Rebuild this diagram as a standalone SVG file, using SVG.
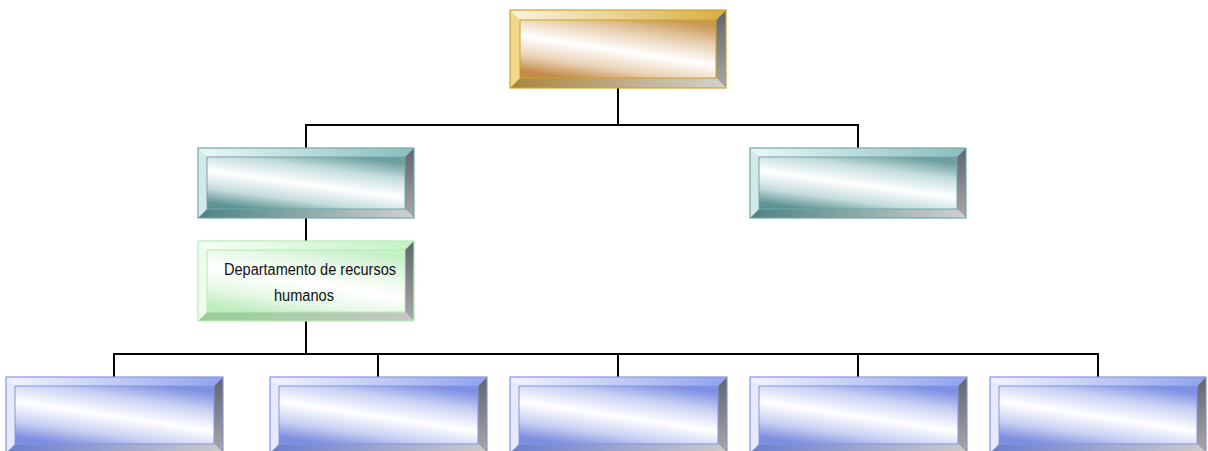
<svg xmlns="http://www.w3.org/2000/svg" width="1208" height="451" viewBox="0 0 1208 451">
<style>
.conn{fill:none;stroke:#000;stroke-width:2;stroke-linecap:square}
.rb{fill:url(#gRight)}
.lbl{font-family:"Liberation Sans",Arial,sans-serif;font-size:16px;fill:#111;text-anchor:middle}
.gold .outer{stroke:#d4a21c;stroke-width:1.2}
.gold .c{fill:url(#goldC)} .gold .t{fill:url(#goldT)} .gold .l{fill:#f0d98c} .gold .b{fill:url(#goldB)} .gold .in{fill:none;stroke:#d4a21c;stroke-width:1}
.teal .outer{stroke:#6fa9a9;stroke-width:1.2}
.teal .c{fill:url(#tealC)} .teal .t{fill:url(#tealT)} .teal .l{fill:#d5e9e9} .teal .b{fill:url(#tealB)} .teal .in{fill:none;stroke:#6fa9a9;stroke-width:1}
.green .outer{stroke:#b4ecb4;stroke-width:1.2}
.green .c{fill:url(#greenC)} .green .t{fill:url(#greenT)} .green .l{fill:#f0fcf0} .green .b{fill:url(#greenB)} .green .in{fill:none;stroke:#b4ecb4;stroke-width:1}
.blue .outer{stroke:#8395e6;stroke-width:1.2}
.blue .c{fill:url(#blueC)} .blue .t{fill:url(#blueT)} .blue .l{fill:#e6ebfc} .blue .b{fill:url(#blueB)} .blue .in{fill:none;stroke:#8395e6;stroke-width:1}
</style>
<defs>
<linearGradient id="gRight" x1="0" y1="0" x2="0" y2="1"><stop offset="0" stop-color="#5e6470"/><stop offset="1" stop-color="#a8a8a8"/></linearGradient>
<linearGradient id="goldC" x1="0.76" y1="0" x2="0.24" y2="1"><stop offset="0" stop-color="#c99a55"/><stop offset="0.25" stop-color="#e8d0b2"/><stop offset="0.52" stop-color="#ffffff"/><stop offset="0.78" stop-color="#ead3b6"/><stop offset="1" stop-color="#c48a48"/></linearGradient>
<linearGradient id="goldT" x1="0" y1="0" x2="1" y2="0"><stop offset="0" stop-color="#fbf4e2"/><stop offset="1" stop-color="#d6ae42"/></linearGradient>
<linearGradient id="goldB" x1="0" y1="0" x2="1" y2="0"><stop offset="0" stop-color="#a8843c"/><stop offset="1" stop-color="#d2d2d2"/></linearGradient>
<linearGradient id="tealC" x1="0.76" y1="0" x2="0.24" y2="1"><stop offset="0" stop-color="#6e9e9e"/><stop offset="0.25" stop-color="#c6dede"/><stop offset="0.52" stop-color="#ffffff"/><stop offset="0.78" stop-color="#c4dcdc"/><stop offset="1" stop-color="#5f9494"/></linearGradient>
<linearGradient id="tealT" x1="0" y1="0" x2="1" y2="0"><stop offset="0" stop-color="#eef6f6"/><stop offset="1" stop-color="#8abdbd"/></linearGradient>
<linearGradient id="tealB" x1="0" y1="0" x2="1" y2="0"><stop offset="0" stop-color="#4e8282"/><stop offset="1" stop-color="#d0d0d0"/></linearGradient>
<linearGradient id="greenC" x1="0.76" y1="0" x2="0.24" y2="1"><stop offset="0" stop-color="#c6f0c6"/><stop offset="0.25" stop-color="#e6f8e6"/><stop offset="0.52" stop-color="#ffffff"/><stop offset="0.78" stop-color="#e6f8e6"/><stop offset="1" stop-color="#c0eec0"/></linearGradient>
<linearGradient id="greenT" x1="0" y1="0" x2="1" y2="0"><stop offset="0" stop-color="#f6fef6"/><stop offset="1" stop-color="#c4f2c4"/></linearGradient>
<linearGradient id="greenB" x1="0" y1="0" x2="1" y2="0"><stop offset="0" stop-color="#98cf98"/><stop offset="1" stop-color="#c6c6c6"/></linearGradient>
<linearGradient id="blueC" x1="0.76" y1="0" x2="0.24" y2="1"><stop offset="0" stop-color="#7f90e2"/><stop offset="0.25" stop-color="#cbd3f4"/><stop offset="0.52" stop-color="#ffffff"/><stop offset="0.78" stop-color="#c9d1f3"/><stop offset="1" stop-color="#7d8ee0"/></linearGradient>
<linearGradient id="blueT" x1="0" y1="0" x2="1" y2="0"><stop offset="0" stop-color="#f2f4fd"/><stop offset="1" stop-color="#91a2ec"/></linearGradient>
<linearGradient id="blueB" x1="0" y1="0" x2="1" y2="0"><stop offset="0" stop-color="#6c7ed0"/><stop offset="1" stop-color="#cccccc"/></linearGradient>
</defs>

<g id="connectors">
<path class="conn" d="M618 88V125M306 125H858M306 125V148M858 125V148"/>
<path class="conn" d="M306 218V241"/>
<path class="conn" d="M306 321V354M114 354H1098M114 354V377M378 354V377M618 354V377M858 354V377M1098 354V377"/>
</g>

<g id="node-top" class="gold">
<rect class="c" x="520" y="20" width="196" height="58"/>
<polygon class="t" points="510,10 726,10 716,20 520,20"/>
<polygon class="l" points="510,10 520,20 520,78 510,88"/>
<polygon class="rb" points="726,10 726,88 716,78 716,20"/>
<polygon class="b" points="510,88 520,78 716,78 726,88"/>
<rect class="in" x="520" y="20" width="196" height="58"/>
<rect class="outer" x="510" y="10" width="216" height="78" fill="none"/>
</g>

<g id="node-mid-left" class="teal">
<rect class="c" x="207" y="157" width="198" height="52"/>
<polygon class="t" points="198,148 414,148 405,157 207,157"/>
<polygon class="l" points="198,148 207,157 207,209 198,218"/>
<polygon class="rb" points="414,148 414,218 405,209 405,157"/>
<polygon class="b" points="198,218 207,209 405,209 414,218"/>
<rect class="in" x="207" y="157" width="198" height="52"/>
<rect class="outer" x="198" y="148" width="216" height="70" fill="none"/>
</g>

<g id="node-mid-right" class="teal">
<rect class="c" x="759" y="157" width="198" height="52"/>
<polygon class="t" points="750,148 966,148 957,157 759,157"/>
<polygon class="l" points="750,148 759,157 759,209 750,218"/>
<polygon class="rb" points="966,148 966,218 957,209 957,157"/>
<polygon class="b" points="750,218 759,209 957,209 966,218"/>
<rect class="in" x="759" y="157" width="198" height="52"/>
<rect class="outer" x="750" y="148" width="216" height="70" fill="none"/>
</g>

<g id="node-rh" class="green">
<rect class="c" x="207" y="250" width="198" height="62"/>
<polygon class="t" points="198,241 414,241 405,250 207,250"/>
<polygon class="l" points="198,241 207,250 207,312 198,321"/>
<polygon class="rb" points="414,241 414,321 405,312 405,250"/>
<polygon class="b" points="198,321 207,312 405,312 414,321"/>
<rect class="in" x="207" y="250" width="198" height="62"/>
<rect class="outer" x="198" y="241" width="216" height="80" fill="none"/>
<text class="lbl" x="310" y="275" textLength="172" lengthAdjust="spacingAndGlyphs">Departamento de recursos</text>
<text class="lbl" x="304" y="301" textLength="60" lengthAdjust="spacingAndGlyphs">humanos</text>
</g>

<g id="node-b1" class="blue">
<rect class="c" x="15" y="386" width="199" height="58"/>
<polygon class="t" points="6,377 223,377 214,386 15,386"/>
<polygon class="l" points="6,377 15,386 15,444 6,453"/>
<polygon class="rb" points="223,377 223,453 214,444 214,386"/>
<polygon class="b" points="6,453 15,444 214,444 223,453"/>
<rect class="in" x="15" y="386" width="199" height="58"/>
<rect class="outer" x="6" y="377" width="217" height="76" fill="none"/>
</g>

<g id="node-b2" class="blue">
<rect class="c" x="279" y="386" width="199" height="58"/>
<polygon class="t" points="270,377 487,377 478,386 279,386"/>
<polygon class="l" points="270,377 279,386 279,444 270,453"/>
<polygon class="rb" points="487,377 487,453 478,444 478,386"/>
<polygon class="b" points="270,453 279,444 478,444 487,453"/>
<rect class="in" x="279" y="386" width="199" height="58"/>
<rect class="outer" x="270" y="377" width="217" height="76" fill="none"/>
</g>

<g id="node-b3" class="blue">
<rect class="c" x="519" y="386" width="199" height="58"/>
<polygon class="t" points="510,377 727,377 718,386 519,386"/>
<polygon class="l" points="510,377 519,386 519,444 510,453"/>
<polygon class="rb" points="727,377 727,453 718,444 718,386"/>
<polygon class="b" points="510,453 519,444 718,444 727,453"/>
<rect class="in" x="519" y="386" width="199" height="58"/>
<rect class="outer" x="510" y="377" width="217" height="76" fill="none"/>
</g>

<g id="node-b4" class="blue">
<rect class="c" x="759" y="386" width="199" height="58"/>
<polygon class="t" points="750,377 967,377 958,386 759,386"/>
<polygon class="l" points="750,377 759,386 759,444 750,453"/>
<polygon class="rb" points="967,377 967,453 958,444 958,386"/>
<polygon class="b" points="750,453 759,444 958,444 967,453"/>
<rect class="in" x="759" y="386" width="199" height="58"/>
<rect class="outer" x="750" y="377" width="217" height="76" fill="none"/>
</g>

<g id="node-b5" class="blue">
<rect class="c" x="999" y="386" width="198" height="58"/>
<polygon class="t" points="990,377 1206,377 1197,386 999,386"/>
<polygon class="l" points="990,377 999,386 999,444 990,453"/>
<polygon class="rb" points="1206,377 1206,453 1197,444 1197,386"/>
<polygon class="b" points="990,453 999,444 1197,444 1206,453"/>
<rect class="in" x="999" y="386" width="198" height="58"/>
<rect class="outer" x="990" y="377" width="216" height="76" fill="none"/>
</g>
</svg>
